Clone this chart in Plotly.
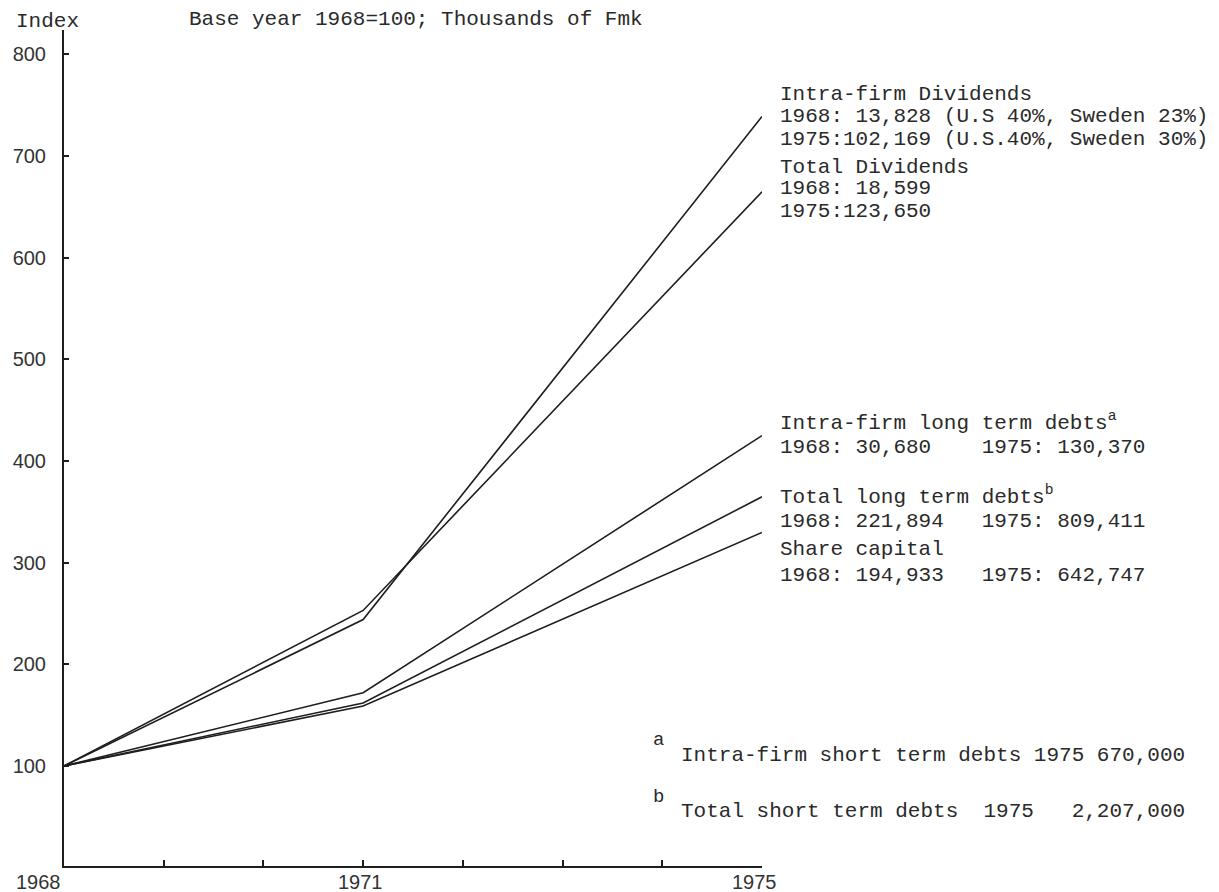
import plotly.graph_objects as go

# Index series, base year 1968 = 100
years = [1968, 1971, 1975]

series_names = [
    "Intra-firm Dividends",
    "Total Dividends",
    "Intra-firm long term debts",
    "Total long term debts",
    "Share capital",
]
# Thousands of Fmk in 1968 and 1975
values_1968 = [13828, 18599, 30680, 221894, 194933]
values_1975 = [102169, 123650, 130370, 809411, 642747]
# Index level in 1971
index_1971 = [244, 253, 172, 162, 159]

y_ticks = [100, 200, 300, 400, 500, 600, 700, 800]
x_ticks = [1968, 1969, 1970, 1971, 1972, 1973, 1974, 1975]
x_tick_labels = ["1968", "1971", "1975"]

W, H = 1219, 892
PL, PR, PT, PB = 64, 762, 30, 866  # plot area in pixels

MONO = "Liberation Mono, Courier New, monospace"
SANS = "Liberation Sans, Arial, sans-serif"
INK = "#1e1e1e"
TXT = "#2a2a2a"


def px(x):
    return (x - PL) / (PR - PL)


def py(y):
    return (PB - y) / (PB - PT)


fig = go.Figure()
for name, v68, v71, v75 in zip(series_names, values_1968, index_1971, values_1975):
    fig.add_trace(go.Scatter(
        x=years,
        y=[100, v71, v75 / v68 * 100],
        mode="lines",
        name=name,
        line=dict(color=INK, width=1.6),
        showlegend=False,
        hoverinfo="skip",
    ))

annotations = []


def text(x, y, s, size=21, font=MONO, anchor="left", color=TXT):
    annotations.append(dict(
        x=px(x), y=py(y), xref="paper", yref="paper", text=s,
        showarrow=False, xanchor=anchor, yanchor="middle",
        font=dict(family=font, size=size, color=color),
    ))


# header
text(14, 22, "Index")
text(187, 19, "Base year 1968=100; Thousands of Fmk")

# series labels
tx = 778
text(tx, 95, "Intra-firm Dividends")
text(tx, 117, "1968: 13,828 (U.S 40%, Sweden 23%)")
text(tx, 139, "1975:102,169 (U.S.40%, Sweden 30%)")
text(tx, 167, "Total Dividends")
text(tx, 189, "1968: 18,599")
text(tx, 211, "1975:123,650")
text(tx, 421, "Intra-firm long term debts<sup>a</sup>")
text(tx, 447, "1968: 30,680    1975: 130,370")
text(tx, 495, "Total long term debts<sup>b</sup>")
text(tx, 521, "1968: 221,894   1975: 809,411")
text(tx, 549, "Share capital")
text(tx, 575, "1968: 194,933   1975: 642,747")

# footnotes
text(651, 740, "a", size=19)
text(679, 755, "Intra-firm short term debts 1975 670,000")
text(651, 797, "b", size=19)
text(679, 811, "Total short term debts  1975   2,207,000")

# x tick labels
for lbl, cx in zip(x_tick_labels, [38, 360, 754]):
    text(cx, 882, lbl, size=20, font=SANS, anchor="center", color="#333")

fig.update_layout(
    width=W, height=H,
    margin=dict(l=PL, r=W - PR, t=PT, b=H - PB, pad=0),
    paper_bgcolor="white", plot_bgcolor="white",
    annotations=annotations,
    xaxis=dict(
        range=[1968, 1975], tickvals=x_ticks, showticklabels=False,
        ticks="inside", ticklen=6, tickwidth=2, tickcolor=INK,
        showline=True, linewidth=2, linecolor=INK,
        showgrid=False, zeroline=False,
    ),
    yaxis=dict(
        range=[1.6, 824], tickvals=y_ticks,
        ticks="inside", ticklen=5, tickwidth=2, tickcolor=INK,
        showline=True, linewidth=2, linecolor=INK,
        showgrid=False, zeroline=False,
        tickfont=dict(family=SANS, size=20, color="#333"),
        ticklabelstandoff=12,
    ),
)

fig.write_html("out.html")
